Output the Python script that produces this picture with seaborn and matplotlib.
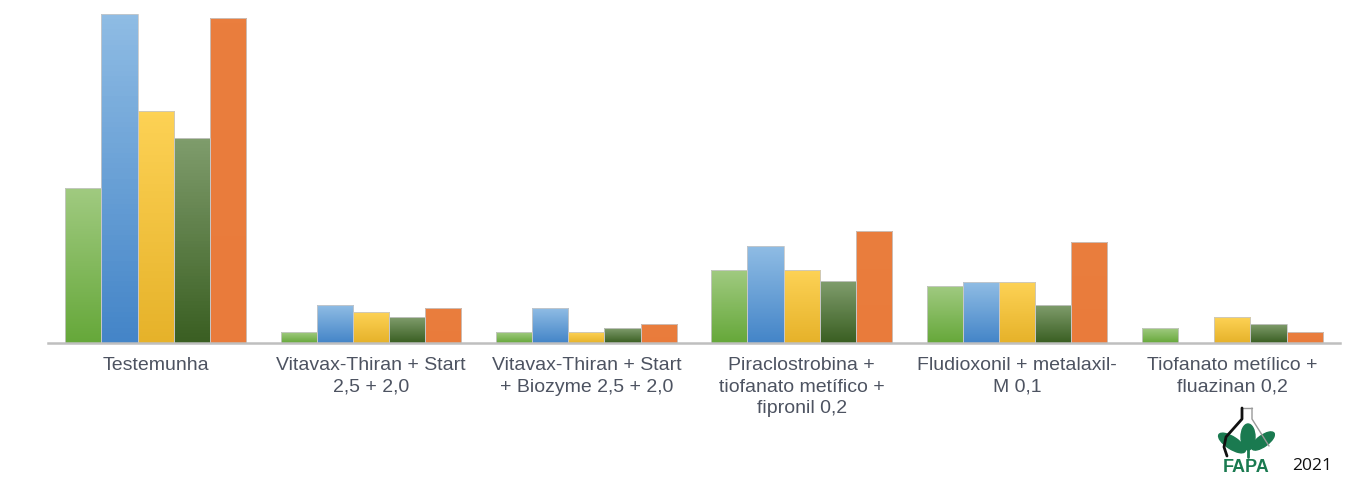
import numpy as np
import pandas as pd
import matplotlib
matplotlib.use("Agg")
import matplotlib.pyplot as plt
from matplotlib.colors import LinearSegmentedColormap
from matplotlib.patches import Ellipse
import seaborn as sns

# data (heights, arbitrary units)
categories = [
    "Testemunha",
    "Vitavax-Thiran + Start\n2,5 + 2,0",
    "Vitavax-Thiran + Start\n+ Biozyme 2,5 + 2,0",
    "Piraclostrobina +\ntiofanato metífico +\nfipronil 0,2",
    "Fludioxonil + metalaxil-\nM 0,1",
    "Tiofanato metílico +\nfluazinan 0,2",
]
series = ["s1", "s2", "s3", "s4", "s5"]
s1 = [155, 11, 11, 73, 57, 15]
s2 = [329, 38, 35, 97, 61, np.nan]
s3 = [232, 31, 11, 73, 61, 26]
s4 = [205, 26, 15, 62, 38, 19]
s5 = [325, 35, 19, 112, 101, 11]

# gradient top / bottom colours per series
grad = {
    "s1": ("#a0ca80", "#66a83a"),
    "s2": ("#8fbce4", "#4485c8"),
    "s3": ("#fdd255", "#e6b22a"),
    "s4": ("#7f9c6c", "#3a5f22"),
    "s5": ("#ea7e3e", "#e97b3b"),
}

rows = []
for name, vals in zip(series, [s1, s2, s3, s4, s5]):
    for c, v in zip(categories, vals):
        rows.append({"cat": c, "serie": name, "val": v})
df = pd.DataFrame(rows)

sns.set_style("white")
plt.rcParams["font.family"] = ["Liberation Sans", "DejaVu Sans"]

fig = plt.figure(figsize=(13.47, 4.93), dpi=100)
ax = fig.add_axes([48 / 1347, 150.3 / 493, 1292 / 1347, 342.7 / 493])

palette = {k: v[1] for k, v in grad.items()}
sns.barplot(data=df, x="cat", y="val", hue="serie", order=categories,
            hue_order=series, palette=palette, width=0.84, gap=0,
            edgecolor="#c8c8c8", linewidth=0.6, legend=False, ax=ax)

# gradient fill for each bar
for i, cont in enumerate(ax.containers):
    top, bot = grad[series[i]]
    cmap = LinearSegmentedColormap.from_list("g", [bot, top])
    for p in cont.patches:
        h = p.get_height()
        if not np.isfinite(h) or h <= 0:
            continue
        x0 = p.get_x()
        w = p.get_width()
        p.set_facecolor("none")
        im = ax.imshow(np.linspace(0, 1, 64).reshape(-1, 1), cmap=cmap,
                       origin="lower", aspect="auto",
                       extent=[x0, x0 + w, 0, h], zorder=p.get_zorder() - 0.1)
        im.set_clip_path(p)
ax.set_xlim(-0.5, len(categories) - 0.5)
ax.set_ylim(0, 342.7)

for s in ["top", "right", "left"]:
    ax.spines[s].set_visible(False)
ax.spines["bottom"].set_color("#bfbfbf")
ax.spines["bottom"].set_linewidth(1.8)
ax.set_yticks([])
ax.set_xlabel("")
ax.set_ylabel("")

ax.set_xticks(range(len(categories)))
ax.set_xticklabels(categories, fontsize=14, color="#4d5361", linespacing=1.38)
ax.tick_params(axis="x", which="major", length=0, pad=10)
ax.set_xticks(np.arange(-0.5, len(categories), 1), minor=True)
ax.tick_params(axis="x", which="minor", length=5, width=1.2, color="#bfbfbf",
               direction="out")

# FAPA logo + year
la = fig.add_axes([1215 / 1347, 16 / 493, 60 / 1347, 72 / 493])
la.set_xlim(0, 60)
la.set_ylim(0, 72)
la.axis("off")
la.plot([27, 37], [69, 69], color="#9a9a9a", lw=1)
la.plot([37, 37, 54], [69, 58, 31], color="#9a9a9a", lw=1)
la.plot([27, 27, 11, 9, 12], [69, 58, 40, 30, 21], color="#111111", lw=2)
lf = "#1a7a50"
la.add_patch(Ellipse((17, 34), 31, 12, angle=-33, color=lf))
la.add_patch(Ellipse((48, 36), 27, 11, angle=36, color=lf))
la.add_patch(Ellipse((33, 40), 14, 26, angle=0, color=lf))
la.plot([33, 33], [28, 20], color=lf, lw=2)
la.text(31, 9, "FAPA", ha="center", va="center", fontsize=13,
        fontweight="bold", color=lf)
fig.text(1312 / 1347, 1 - 466 / 493, "2021", ha="center", va="center",
         fontsize=12.5, color="#111111", family=["Open Sans", "DejaVu Sans"])

fig.savefig("out.png", dpi=100)
